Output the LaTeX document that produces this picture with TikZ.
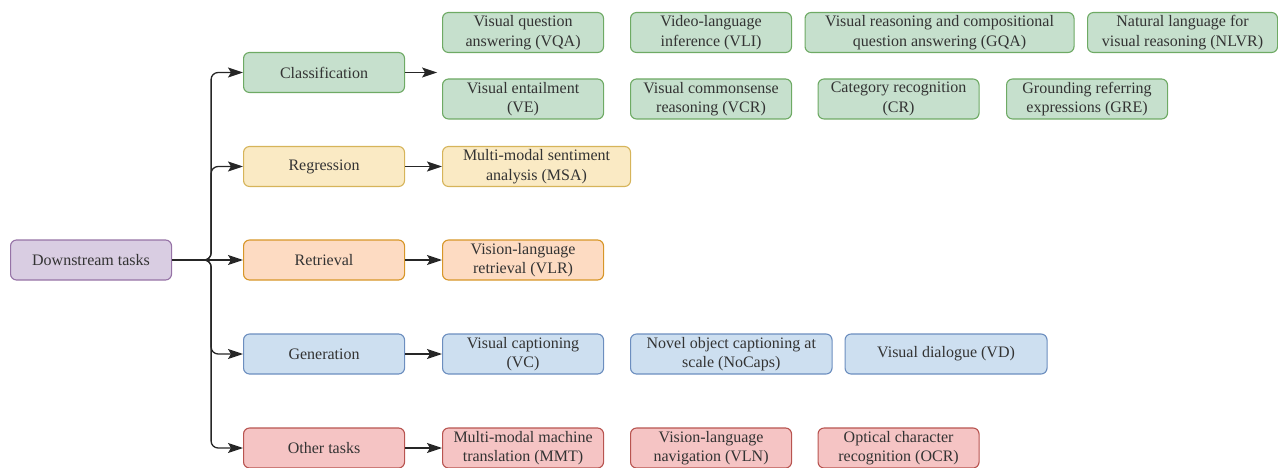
\documentclass[tikz,border=0pt]{standalone}
\usepackage{fontspec}
\setmainfont{Liberation Serif}
\usepackage{tikz}
\usetikzlibrary{positioning}
\usetikzlibrary{calc}
\usetikzlibrary{arrows.meta}

\definecolor{purplefill}{RGB}{217,205,226}
\definecolor{purpleline}{RGB}{150,115,166}
\definecolor{greenfill}{RGB}{198,224,205}
\definecolor{greenline}{RGB}{110,170,100}
\definecolor{yellowfill}{RGB}{250,234,196}
\definecolor{yellowline}{RGB}{214,180,90}
\definecolor{orangefill}{RGB}{253,219,194}
\definecolor{orangeline}{RGB}{215,150,40}
\definecolor{bluefill}{RGB}{205,223,240}
\definecolor{blueline}{RGB}{108,142,191}
\definecolor{redfill}{RGB}{245,196,196}
\definecolor{redline}{RGB}{184,84,80}

\tikzset{
    % Common look of every task box
    task box/.style={
        draw, rounded corners=6pt, line width=1.1pt, anchor=west,
        minimum width=#1, minimum height=40pt, inner sep=2pt,
        align=center, text=black!80,
        font=\rmfamily\fontsize{16}{19.5}\selectfont},
    task box/.default=161pt,
%
    % One fill per branch of the tree
    root fill/.style={fill=purplefill, draw=purpleline},
    class fill/.style={fill=greenfill, draw=greenline},
    regress fill/.style={fill=yellowfill, draw=yellowline},
    retrieve fill/.style={fill=orangefill, draw=orangeline},
    generate fill/.style={fill=bluefill, draw=blueline},
    other fill/.style={fill=redfill, draw=redline},
%
    % Connectors, with filled heads like the ones in the figure
    link/.style={-{Stealth[length=15pt, width=10pt, inset=3pt]},
        line width=1.3pt, draw=black!85}}

\begin{document}
\begin{tikzpicture}[x=1pt, y=-1pt]
\useasboundingbox (0,0) rectangle (1278,468);

% Root of the tree
\node [task box, root fill] (down) at (10,260) {Downstream tasks};

% Kinds of downstream tasks
\node [task box, class fill] (cls) at (243,72.5) {Classification};
\node [task box, regress fill] (reg) at (243,166.5) {Regression};
\node [task box, retrieve fill] (ret) at (243,260) {Retrieval};
\node [task box, generate fill] (gen) at (243,354) {Generation};
\node [task box, other fill] (oth) at (243,448) {Other tasks};

% Fork from the root to every kind
\coordinate (fork) at ($(down.east)+(39,0)$);
\draw [link] (down.east) -- (ret.west);
\foreach \kind in {cls, reg, gen, oth}
    \draw [link, rounded corners=7pt] (down.east) -- (fork) |- (\kind.west);

% Classification tasks
\node [task box, class fill] (vqa) at (442,32.5)
    {Visual question\\answering (VQA)};
\node [task box, class fill] (vli) at (630,32.5)
    {Video-language\\inference (VLI)};
\node [task box=269pt, class fill] (gqa) at (804.5,32.5)
    {Visual reasoning and compositional\\question answering (GQA)};
\node [task box=190pt, class fill] (nlvr) at (1087,32.5)
    {Natural language for\\visual reasoning (NLVR)};
\node [task box, class fill] (ve) at (442,99)
    {Visual entailment\\(VE)};
\node [task box, class fill] (vcr) at (630,99)
    {Visual commonsense\\reasoning (VCR)};
\node [task box, class fill] (cr) at (817.5,99)
    {Category recognition\\(CR)};
\node [task box, class fill] (gre) at (1006,99)
    {Grounding referring\\expressions (GRE)};
\coordinate (cls end) at ($(cls.east)+(32,0)$);
\draw [link] (cls.east) -- (cls end);

% Regression and retrieval tasks
\node [task box=188pt, regress fill] (msa) at (442,166.5)
    {Multi-modal sentiment\\analysis (MSA)};
\draw [link] (reg) -- (msa);
\node [task box, retrieve fill] (vlr) at (442,260)
    {Vision-language\\retrieval (VLR)};
\draw [link] (ret) -- (vlr);

% Generation tasks
\node [task box, generate fill] (vc) at (442,354)
    {Visual captioning\\(VC)};
\node [task box=201.5pt, generate fill] (nocaps) at (630,354)
    {Novel object captioning at\\scale (NoCaps)};
\node [task box=202pt, generate fill] (vd) at (844.5,354)
    {Visual dialogue (VD)};
\draw [link] (gen) -- (vc);

% Other tasks
\node [task box, other fill] (mmt) at (442,448)
    {Multi-modal machine\\translation (MMT)};
\node [task box, other fill] (vln) at (630,448)
    {Vision-language\\navigation (VLN)};
\node [task box, other fill] (ocr) at (817.5,448)
    {Optical character\\recognition (OCR)};
\draw [link] (oth) -- (mmt);

\end{tikzpicture}
\end{document}
